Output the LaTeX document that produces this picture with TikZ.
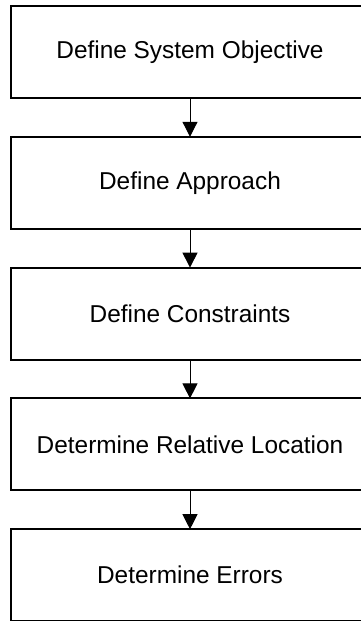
\documentclass[tikz,border=0pt]{standalone}
\usepackage{fontspec}
\setmainfont{Liberation Sans}
\usetikzlibrary{arrows.meta,positioning}

\begin{document}
\begin{tikzpicture}[node distance=19.4pt,auto]
    \tikzstyle{step box}=[draw,line width=1pt,outer sep=0pt,minimum width=179pt,minimum height=46pt,inner sep=0pt,font=\fontsize{12.2}{14}\selectfont]
    \tikzstyle{flow}=[line width=0.5pt,-{Triangle[width=7.5pt,length=7.5pt]}]

    \useasboundingbox (0,0) rectangle (180pt,-310.5pt);

    \node[step box] (objective) at (95pt,-26pt) {Define System Objective};
    \node[step box] (approach) [below=of objective] {Define Approach};
    \node[step box] (constraints) [below=of approach] {Define Constraints};
    \node[step box] (location) [below=of constraints] {Determine Relative Location};
    \node[step box] (errors) [below=of location] {Determine Errors};

    \draw[flow] (objective) -- (approach);
    \draw[flow] (approach) -- (constraints);
    \draw[flow] (constraints) -- (location);
    \draw[flow] (location) -- (errors);
\end{tikzpicture}
\end{document}
